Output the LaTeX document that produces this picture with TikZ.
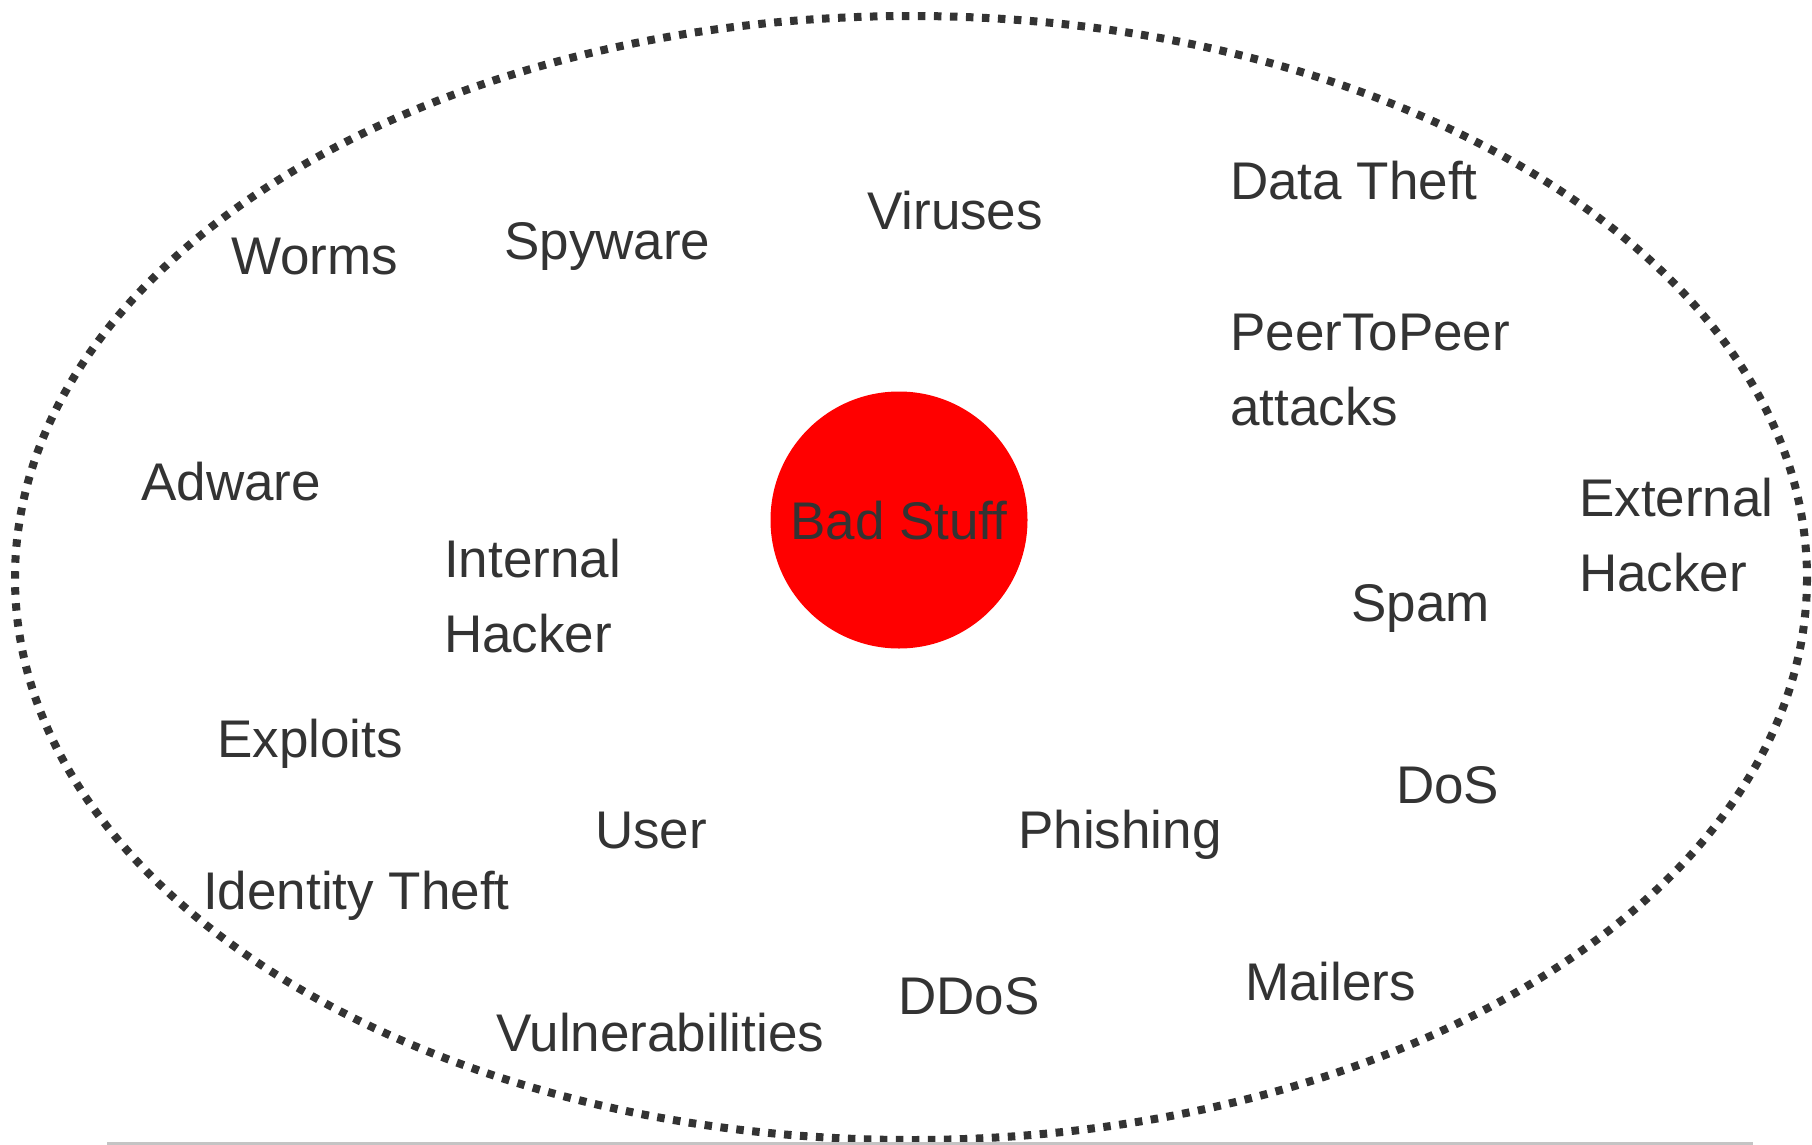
\documentclass[tikz,border=0pt]{standalone}
\usepackage{fontspec}
\setmainfont{Liberation Sans}
\definecolor{txt}{HTML}{333333}
\definecolor{dotc}{HTML}{333333}
\definecolor{rule}{HTML}{C4C4C4}
\begin{document}
\begin{tikzpicture}[x=1pt,y=-1pt,
  lbl/.style={anchor=base west,inner sep=0pt,text=txt,font=\fontsize{53}{75}\selectfont},
  ring/.style={draw=dotc,line width=8pt,dash pattern=on 7.5pt off 8.5pt},
  core/.style={circle,fill=red,draw=none,minimum size=257pt,inner sep=0pt,
    text=txt,font=\fontsize{53}{75}\selectfont,text height=38pt,text depth=0pt}]
\useasboundingbox (0,0) rectangle (1812,1145);
\fill[white] (0,0) rectangle (1812,1145);
\draw[ring] (911,578) ellipse [x radius=896, y radius=562];
\draw[rule,line width=3pt] (107,1143.5) -- (1753,1143.5);
\node[core] (bad) at (899,520) {Bad Stuff};
\node[lbl] (worms) at (231,274) {Worms};
\node[lbl] (spy) at (504,259) {Spyware};
\node[lbl] (vir) at (867,229) {Viruses};
\node[lbl] (data) at (1230,199) {Data Theft};
\node[lbl] (p2pa) at (1230,350) {PeerToPeer};
\node[lbl] (p2pb) at (1230,425) {attacks};
\node[lbl] (adw) at (141,500) {Adware};
\node[lbl] (inta) at (444,577) {Internal};
\node[lbl] (intb) at (444,652) {Hacker};
\node[lbl] (exta) at (1579,516) {External};
\node[lbl] (extb) at (1579,591) {Hacker};
\node[lbl] (spam) at (1351,621) {Spam};
\node[lbl] (expl) at (217,757) {Exploits};
\node[lbl] (dos) at (1396,803) {DoS};
\node[lbl] (user) at (595,848) {User};
\node[lbl] (phish) at (1018,848) {Phishing};
\node[lbl] (ident) at (203,909) {Identity Theft};
\node[lbl] (mail) at (1245,1000) {Mailers};
\node[lbl] (ddos) at (898,1014) {DDoS};
\node[lbl] (vuln) at (496,1051) {Vulnerabilities};
\end{tikzpicture}
\end{document}
